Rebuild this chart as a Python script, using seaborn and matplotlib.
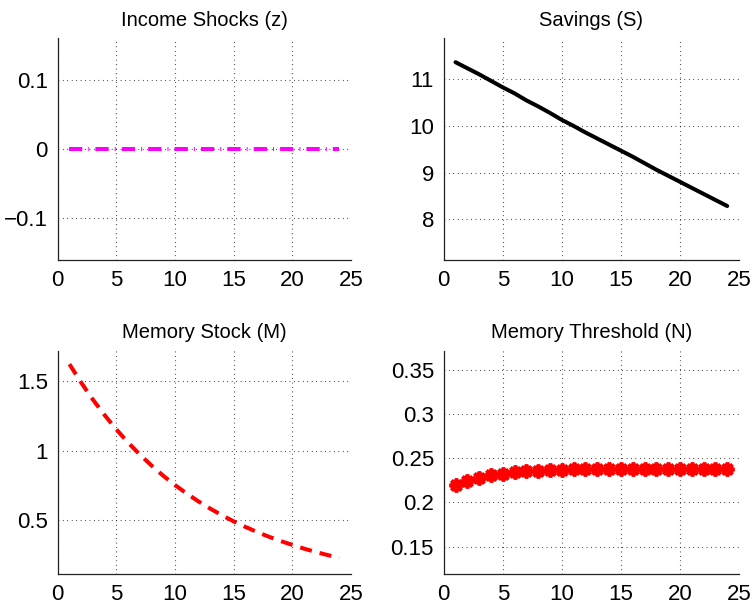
import numpy as np
import pandas as pd
import matplotlib
matplotlib.use("Agg")
import matplotlib.pyplot as plt
import seaborn as sns

# ---- data ----
periods = list(range(1, 25))
income_shocks = [0.0] * 24
savings = [11.37, 11.24, 11.11, 10.97, 10.83, 10.70, 10.55, 10.42, 10.28, 10.13,
           10.00, 9.86, 9.73, 9.60, 9.47, 9.34, 9.20, 9.06, 8.93, 8.80,
           8.67, 8.54, 8.41, 8.28]
memory_stock = [1.625, 1.492, 1.369, 1.257, 1.154, 1.059, 0.972, 0.893, 0.819, 0.752,
                0.691, 0.634, 0.582, 0.534, 0.490, 0.450, 0.413, 0.379, 0.348, 0.320,
                0.293, 0.269, 0.247, 0.227]
memory_threshold = [0.2200, 0.2245, 0.2280, 0.2305, 0.2325, 0.2340, 0.2350, 0.2358, 0.2364, 0.2368,
                    0.2372, 0.2375, 0.2377, 0.2378, 0.2379, 0.2380, 0.2380, 0.2380, 0.2380, 0.2380,
                    0.2380, 0.2380, 0.2380, 0.2380]

titles = ["Income Shocks (z)", "Savings (S)", "Memory Stock (M)", "Memory Threshold (N)"]
x_ticks = [0, 5, 10, 15, 20, 25]
x_ticklabels = ["0", "5", "10", "15", "20", "25"]
yt_z = [-0.1, 0.0, 0.1]
yl_z = ["\u22120.1", "0", "0.1"]
yt_s = [8, 9, 10, 11]
yl_s = ["8", "9", "10", "11"]
yt_m = [0.5, 1.0, 1.5]
yl_m = ["0.5", "1", "1.5"]
yt_n = [0.15, 0.2, 0.25, 0.3, 0.35]
yl_n = ["0.15", "0.2", "0.25", "0.3", "0.35"]

df = pd.DataFrame({"t": periods, "z": income_shocks, "S": savings,
                   "M": memory_stock, "N": memory_threshold})

sns.set_style("white")
plt.rcParams["font.family"] = ["Liberation Sans", "DejaVu Sans"]
plt.rcParams["axes.unicode_minus"] = True
plt.rcParams["text.color"] = "black"
plt.rcParams["axes.labelcolor"] = "black"

W, H = 756, 609
fig = plt.figure(figsize=(W / 100, H / 100), dpi=100)

def box(l, r, t, b):
    return [l / W, 1 - b / H, (r - l) / W, (b - t) / H]

ax1 = fig.add_axes(box(57.7, 351.0, 38, 260))
ax2 = fig.add_axes(box(443.7, 739.0, 38, 260))
ax3 = fig.add_axes(box(57.7, 351.0, 351, 574))
ax4 = fig.add_axes(box(443.7, 739.0, 351, 574))

lw = 2.9
sns.lineplot(data=df, x="t", y="z", ax=ax1, color="#ff00ff", lw=lw)
ax1.lines[0].set_dashes([3.3, 1.5, 0.25, 1.5])
sns.lineplot(data=df, x="t", y="S", ax=ax2, color="black", lw=lw)
sns.lineplot(data=df, x="t", y="M", ax=ax3, color="red", lw=lw)
ax3.lines[0].set_dashes([3.0, 2.0])
sns.lineplot(data=df, x="t", y="N", ax=ax4, color="red", lw=2.5,
             marker=(8, 2, 0), markersize=10, markeredgewidth=2.7,
             markeredgecolor="red")

specs = [
    (ax1, (-0.16, 0.16), yt_z, yl_z),
    (ax2, (7.12, 11.89), yt_s, yl_s),
    (ax3, (0.11, 1.72), yt_m, yl_m),
    (ax4, (0.119, 0.371), yt_n, yl_n),
]
for (ax, ylim, yt, yl), title in zip(specs, titles):
    ax.set_xlim(0, 25)
    ax.set_ylim(*ylim)
    ax.set_xticks(x_ticks)
    ax.set_xticklabels(x_ticklabels)
    ax.set_yticks(yt)
    ax.set_yticklabels(yl)
    ax.set_xlabel("")
    ax.set_ylabel("")
    ax.set_title(title, fontsize=14.5, pad=9, color="black")
    ax.grid(True, linestyle=(0, (0.6, 3.4)), color="black", lw=0.8)
    ax.set_axisbelow(True)
    for s in ["top", "right"]:
        ax.spines[s].set_visible(False)
    for s in ["left", "bottom"]:
        ax.spines[s].set_color("#222222")
        ax.spines[s].set_linewidth(0.9)
    ax.tick_params(axis="both", direction="in", length=4, width=0.8,
                   labelsize=16, pad=7, colors="#222222", labelcolor="black")
    ax.patch.set_alpha(0)

fig.savefig("out.png", dpi=100)
